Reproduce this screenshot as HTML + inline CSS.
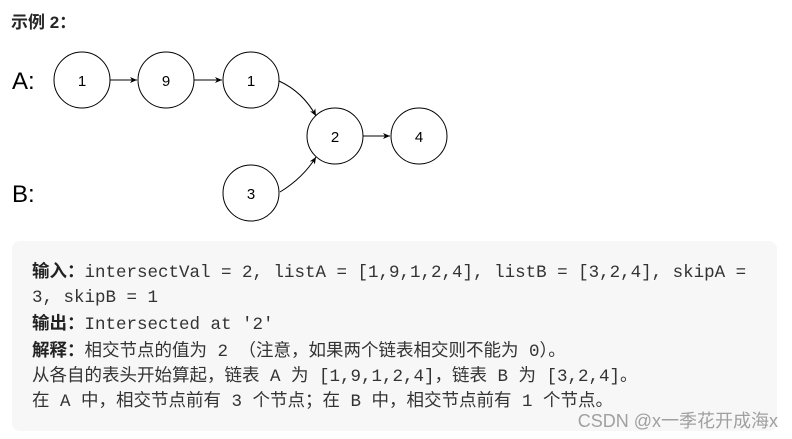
<!DOCTYPE html>
<html><head><meta charset="utf-8"><style>
body{margin:0;width:792px;height:439px;background:#fff;position:relative;overflow:hidden;font-family:"Liberation Sans","Noto Sans CJK SC",sans-serif}
.t{position:absolute;left:11px;top:8px;font-size:17px;font-weight:bold;color:#262626}
.box{position:absolute;left:12px;top:241px;width:765px;height:190px;background:#f7f7f8;border-radius:8px}
.c{position:absolute;left:32px;top:259px;font-family:"Liberation Mono","Noto Sans CJK SC",monospace;font-size:17.5px;line-height:25px;color:#333;white-space:pre}
.c b{font-family:"Liberation Sans","Noto Sans CJK SC",sans-serif;color:#222}
.w{position:absolute;right:14px;top:407px;font-size:18px;color:#a0a0a0}
</style></head><body>
<div class="t">示例 2：</div>
<svg width="792" height="240" style="position:absolute;left:0;top:0" font-family="Liberation Sans,sans-serif">
<defs><marker id="a" markerWidth="8" markerHeight="8" refX="7" refY="4" orient="auto" markerUnits="userSpaceOnUse"><path d="M0,1 L7,4 L0,7 L2,4z" fill="#000"/></marker></defs>
<text x="12" y="89" font-size="24">A:</text>
<text x="12" y="202" font-size="24">B:</text>
<g fill="none" stroke="#000" stroke-width="1">
<circle cx="82" cy="80" r="28"/><circle cx="166" cy="80" r="28"/><circle cx="251" cy="80" r="28"/>
<circle cx="335" cy="136" r="28"/><circle cx="419" cy="136" r="28"/><circle cx="251" cy="193" r="28"/>
<line x1="110" y1="80" x2="137" y2="80" marker-end="url(#a)"/>
<line x1="194" y1="80" x2="222" y2="80" marker-end="url(#a)"/>
<line x1="363" y1="136" x2="390" y2="136" marker-end="url(#a)"/>
<path d="M279,81 Q303,92 316,116" marker-end="url(#a)"/>
<path d="M280,192 Q303,178 316,157" marker-end="url(#a)"/>
</g>
<g font-size="15" text-anchor="middle">
<text x="82" y="86">1</text><text x="166" y="86">9</text><text x="251" y="86">1</text>
<text x="335" y="142">2</text><text x="419" y="142">4</text><text x="251" y="199">3</text>
</g></svg>
<div class="box"></div>
<div class="c"><b>输入：</b>intersectVal = 2, listA = [1,9,1,2,4], listB = [3,2,4], skipA =
3, skipB = 1
<b>输出：</b>Intersected at '2'
<b>解释：</b>相交节点的值为 2 （注意，如果两个链表相交则不能为 0）。
从各自的表头开始算起，链表 A 为 [1,9,1,2,4]，链表 B 为 [3,2,4]。
在 A 中，相交节点前有 3 个节点；在 B 中，相交节点前有 1 个节点。</div>
<div class="w">CSDN @x一季花开成海x</div>
</body></html>
